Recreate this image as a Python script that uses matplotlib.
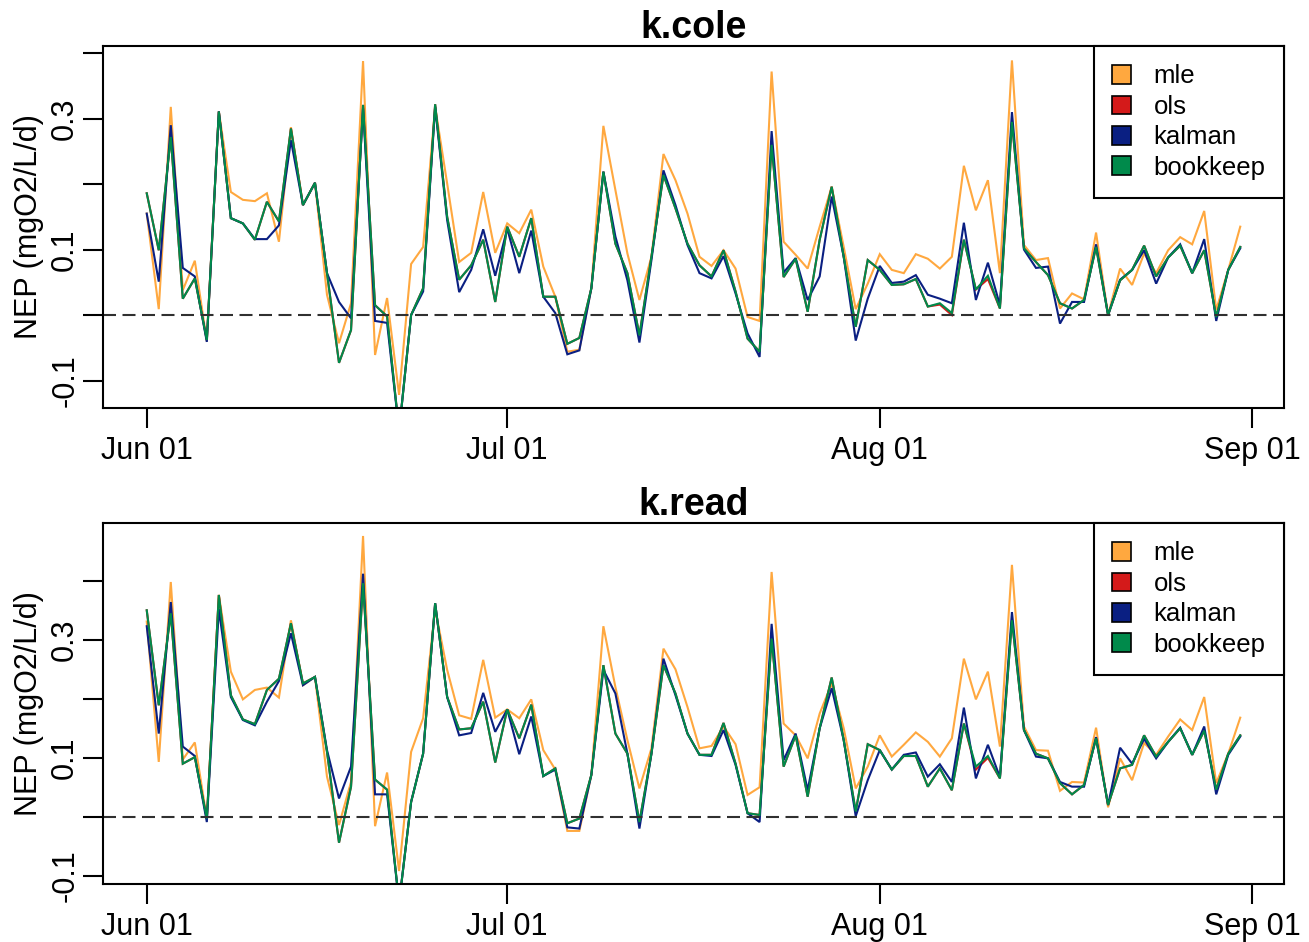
import matplotlib
matplotlib.use('Agg')
import matplotlib.pyplot as plt
import matplotlib.dates as mdates
from matplotlib.patches import Patch
import pandas as pd

plt.rcParams['font.family'] = ['Liberation Sans', 'DejaVu Sans']

dates = pd.date_range('2014-06-01', '2014-08-31', freq='D')

series_names = ['mle', 'ols', 'kalman', 'bookkeep']
series_colors = ['#FFA83F', '#D41A1A', '#0A1F82', '#008A4B']
panel_titles = ['k.cole', 'k.read']
ylabel_text = 'NEP (mgO2/L/d)'
xtick_dates = ['2014-06-01', '2014-07-01', '2014-08-01', '2014-09-01']
xtick_labels = ['Jun 01', 'Jul 01', 'Aug 01', 'Sep 01']
ytick_values = [-0.1, 0.0, 0.1, 0.2, 0.3, 0.4]
ytick_labels = ['-0.1', '', '0.1', '', '0.3', '']

# ---------------- k.cole ----------------
mle_cole = [0.155, 0.009, 0.318, 0.038, 0.083, -0.040, 0.311, 0.188, 0.176, 0.174,
            0.186, 0.112, 0.287, 0.168, 0.202, 0.031, -0.043, 0.018, 0.388, -0.061,
            0.026, -0.122, 0.078, 0.104, 0.318, 0.201, 0.081, 0.095, 0.188, 0.095,
            0.140, 0.125, 0.161, 0.074, 0.028, -0.056, -0.053, 0.041, 0.289, 0.191,
            0.094, 0.023, 0.089, 0.246, 0.206, 0.155, 0.089, 0.075, 0.099, 0.071,
            -0.003, -0.009, 0.372, 0.112, 0.092, 0.071, 0.135, 0.196, 0.104, 0.009,
            0.048, 0.093, 0.069, 0.064, 0.093, 0.086, 0.071, 0.089, 0.228, 0.160,
            0.206, 0.064, 0.389, 0.107, 0.084, 0.087, 0.010, 0.033, 0.024, 0.126,
            0.000, 0.071, 0.046, 0.094, 0.064, 0.099, 0.119, 0.108, 0.159, 0.008,
            0.069, 0.135]
ols_cole = [0.186, 0.099, 0.272, 0.025, 0.056, -0.038, 0.311, 0.148, 0.140, 0.115,
            0.173, 0.143, 0.285, 0.168, 0.202, 0.064, -0.073, -0.023, 0.321, 0.015,
            -0.002, -0.177, 0.000, 0.041, 0.322, 0.150, 0.054, 0.076, 0.115, 0.020,
            0.135, 0.089, 0.148, 0.028, 0.028, -0.044, -0.035, 0.041, 0.219, 0.109,
            0.064, -0.031, 0.089, 0.214, 0.163, 0.109, 0.076, 0.059, 0.099, 0.036,
            -0.036, -0.056, 0.260, 0.058, 0.086, 0.005, 0.115, 0.196, 0.089, -0.018,
            0.084, 0.069, 0.046, 0.047, 0.055, 0.013, 0.016, 0.000, 0.115, 0.039,
            0.055, 0.010, 0.295, 0.102, 0.081, 0.061, 0.018, 0.010, 0.023, 0.104,
            0.000, 0.053, 0.069, 0.106, 0.059, 0.088, 0.106, 0.064, 0.099, -0.003,
            0.069, 0.104]
kalman_cole = [0.155, 0.051, 0.290, 0.072, 0.059, -0.041, 0.311, 0.148, 0.140, 0.116,
               0.116, 0.137, 0.267, 0.168, 0.202, 0.064, 0.020, -0.005, 0.316, -0.009,
               -0.012, -0.177, 0.000, 0.036, 0.318, 0.145, 0.035, 0.069, 0.131, 0.060,
               0.132, 0.064, 0.129, 0.028, 0.003, -0.060, -0.054, 0.041, 0.219, 0.120,
               0.053, -0.042, 0.084, 0.221, 0.168, 0.107, 0.064, 0.056, 0.090, 0.033,
               -0.028, -0.064, 0.281, 0.065, 0.087, 0.023, 0.059, 0.181, 0.089, -0.039,
               0.025, 0.075, 0.049, 0.051, 0.061, 0.031, 0.025, 0.018, 0.141, 0.023,
               0.080, 0.015, 0.310, 0.100, 0.072, 0.074, -0.013, 0.020, 0.020, 0.108,
               0.000, 0.054, 0.069, 0.099, 0.048, 0.088, 0.108, 0.064, 0.116, -0.009,
               0.069, 0.102]
bookkeep_cole = [0.186, 0.099, 0.272, 0.025, 0.056, -0.038, 0.311, 0.148, 0.140, 0.115,
                 0.173, 0.143, 0.285, 0.168, 0.202, 0.064, -0.073, -0.023, 0.321, 0.015,
                 -0.002, -0.177, 0.000, 0.041, 0.322, 0.150, 0.054, 0.076, 0.115, 0.020,
                 0.135, 0.089, 0.148, 0.028, 0.028, -0.044, -0.035, 0.041, 0.219, 0.109,
                 0.064, -0.031, 0.089, 0.214, 0.163, 0.109, 0.076, 0.059, 0.099, 0.036,
                 -0.036, -0.056, 0.260, 0.058, 0.086, 0.005, 0.115, 0.196, 0.089, -0.018,
                 0.084, 0.069, 0.046, 0.047, 0.055, 0.013, 0.018, 0.003, 0.115, 0.039,
                 0.060, 0.010, 0.295, 0.102, 0.081, 0.061, 0.018, 0.010, 0.023, 0.104,
                 0.000, 0.053, 0.069, 0.106, 0.059, 0.088, 0.106, 0.064, 0.099, -0.003,
                 0.069, 0.104]

# ---------------- k.read ----------------
mle_read = [0.331, 0.093, 0.398, 0.097, 0.126, -0.003, 0.376, 0.246, 0.199, 0.215,
            0.219, 0.202, 0.333, 0.223, 0.237, 0.068, -0.014, 0.059, 0.476, -0.016,
            0.075, -0.092, 0.110, 0.167, 0.352, 0.249, 0.172, 0.166, 0.266, 0.168,
            0.182, 0.167, 0.199, 0.113, 0.080, -0.024, -0.024, 0.071, 0.323, 0.220,
            0.130, 0.048, 0.116, 0.285, 0.250, 0.186, 0.116, 0.120, 0.153, 0.123,
            0.037, 0.050, 0.415, 0.158, 0.138, 0.099, 0.175, 0.226, 0.150, 0.048,
            0.085, 0.138, 0.102, 0.122, 0.143, 0.127, 0.102, 0.133, 0.268, 0.199,
            0.246, 0.119, 0.427, 0.153, 0.113, 0.112, 0.044, 0.059, 0.058, 0.151,
            0.016, 0.099, 0.062, 0.125, 0.105, 0.136, 0.165, 0.147, 0.203, 0.057,
            0.107, 0.168]
ols_read = [0.350, 0.189, 0.345, 0.090, 0.101, -0.003, 0.376, 0.206, 0.165, 0.157,
            0.215, 0.234, 0.328, 0.226, 0.237, 0.110, -0.044, 0.051, 0.396, 0.063,
            0.046, -0.146, 0.025, 0.107, 0.362, 0.203, 0.148, 0.150, 0.195, 0.092,
            0.182, 0.133, 0.190, 0.069, 0.082, -0.011, -0.003, 0.071, 0.257, 0.141,
            0.107, -0.009, 0.107, 0.257, 0.209, 0.141, 0.105, 0.105, 0.159, 0.090,
            0.006, 0.003, 0.302, 0.085, 0.138, 0.034, 0.150, 0.236, 0.130, 0.009,
            0.123, 0.113, 0.080, 0.103, 0.103, 0.051, 0.082, 0.045, 0.158, 0.080,
            0.100, 0.065, 0.333, 0.147, 0.107, 0.099, 0.057, 0.038, 0.054, 0.133,
            0.020, 0.082, 0.088, 0.138, 0.102, 0.127, 0.150, 0.105, 0.146, 0.046,
            0.107, 0.138]
kalman_read = [0.323, 0.141, 0.364, 0.119, 0.103, -0.009, 0.352, 0.203, 0.164, 0.155,
               0.195, 0.230, 0.311, 0.223, 0.237, 0.113, 0.031, 0.085, 0.412, 0.038,
               0.038, -0.146, 0.025, 0.107, 0.362, 0.203, 0.138, 0.142, 0.210, 0.144,
               0.182, 0.106, 0.170, 0.069, 0.080, -0.018, -0.020, 0.071, 0.249, 0.209,
               0.107, -0.020, 0.107, 0.268, 0.206, 0.141, 0.105, 0.103, 0.147, 0.088,
               0.006, -0.009, 0.327, 0.096, 0.141, 0.045, 0.150, 0.218, 0.130, 0.001,
               0.062, 0.113, 0.080, 0.105, 0.109, 0.068, 0.089, 0.059, 0.185, 0.065,
               0.122, 0.067, 0.347, 0.147, 0.102, 0.099, 0.059, 0.051, 0.051, 0.135,
               0.020, 0.117, 0.090, 0.132, 0.099, 0.127, 0.151, 0.105, 0.153, 0.038,
               0.105, 0.136]
bookkeep_read = [0.350, 0.189, 0.345, 0.090, 0.101, -0.003, 0.376, 0.206, 0.165, 0.157,
                 0.215, 0.234, 0.328, 0.226, 0.237, 0.110, -0.044, 0.051, 0.396, 0.063,
                 0.046, -0.146, 0.025, 0.107, 0.362, 0.203, 0.148, 0.150, 0.195, 0.092,
                 0.182, 0.133, 0.190, 0.069, 0.082, -0.011, -0.003, 0.071, 0.257, 0.141,
                 0.107, -0.009, 0.107, 0.257, 0.209, 0.141, 0.105, 0.105, 0.159, 0.090,
                 0.006, 0.003, 0.302, 0.085, 0.138, 0.034, 0.150, 0.236, 0.130, 0.009,
                 0.123, 0.113, 0.080, 0.103, 0.103, 0.051, 0.082, 0.045, 0.158, 0.085,
                 0.103, 0.065, 0.333, 0.147, 0.107, 0.099, 0.057, 0.038, 0.054, 0.133,
                 0.020, 0.082, 0.088, 0.138, 0.102, 0.127, 0.150, 0.105, 0.146, 0.046,
                 0.107, 0.138]

panels = [
    [mle_cole, ols_cole, kalman_cole, bookkeep_cole],
    [mle_read, ols_read, kalman_read, bookkeep_read],
]
ylims = [(-0.142, 0.411), (-0.114, 0.498)]

W, H = 1309, 942
fig = plt.figure(figsize=(W / 100, H / 100), dpi=100)
ax_rects = [
    [103 / W, 1 - 408 / H, 1181 / W, 362 / H],
    [103 / W, 1 - 884 / H, 1181 / W, 361 / H],
]

x0 = mdates.date2num(dates[0])
lw = 1.5
for rect, series, title, ylim in zip(ax_rects, panels, panel_titles, ylims):
    ax = fig.add_axes(rect)
    for vals, col in zip(series, series_colors):
        ax.plot(dates, vals, color=col, lw=lw, solid_joinstyle='miter')
    ax.axhline(0, color='#303030', lw=1.5, ls=(0, (13 * 0.72 / 1.5, 6.5 * 0.72 / 1.5)))
    ax.set_xlim(x0 - 3.64, x0 + 94.64)
    ax.set_ylim(*ylim)
    ax.set_xticks(pd.to_datetime(xtick_dates))
    ax.set_xticklabels(xtick_labels)
    ax.set_yticks(ytick_values)
    ax.set_yticklabels(ytick_labels, rotation=90, va='center')
    ax.tick_params(axis='both', direction='out', length=14.4, width=1.5,
                   labelsize=22, colors='black')
    ax.tick_params(axis='x', pad=6)
    ax.tick_params(axis='y', pad=2)
    for sp in ax.spines.values():
        sp.set_linewidth(1.5)
        sp.set_color('black')
    ax.set_title(title, fontsize=27, fontweight='bold', pad=3.4)
    ax.set_ylabel(ylabel_text, fontsize=22)
    ax.yaxis.set_label_coords(-0.050, 0.5)
    handles = [Patch(facecolor=c, edgecolor='black', linewidth=1.2) for c in series_colors]
    leg = ax.legend(handles, series_names, loc='upper right', fontsize=18.5,
                    frameon=True, fancybox=False, edgecolor='black', framealpha=1,
                    borderaxespad=0, borderpad=0.72, handlelength=0.74,
                    handleheight=0.74, handletextpad=0.86, labelspacing=0.25)
    leg.get_frame().set_linewidth(1.5)

fig.savefig('out.png', dpi=100)
